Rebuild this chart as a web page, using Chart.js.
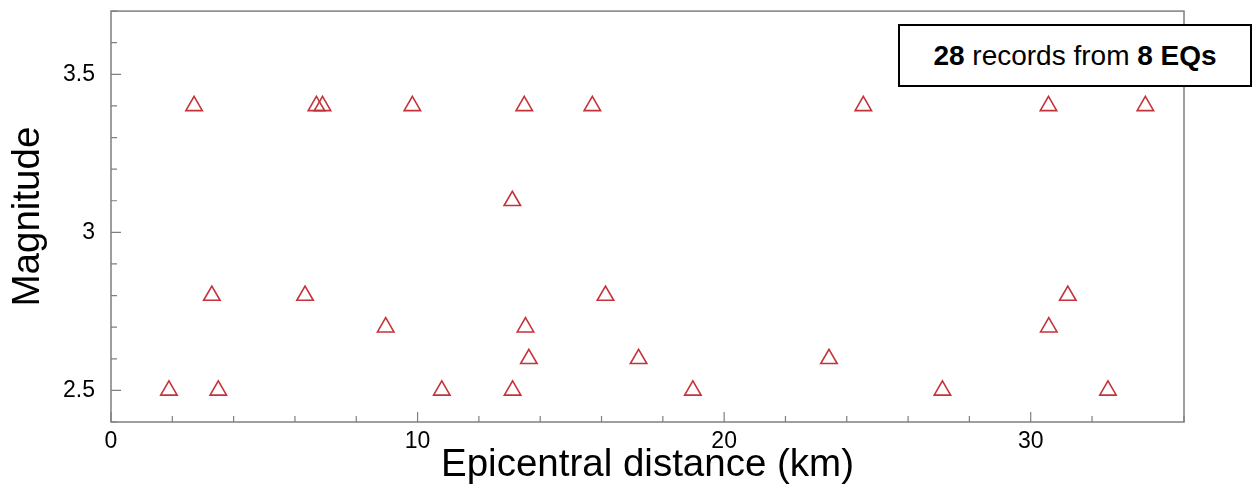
<!DOCTYPE html>
<html>
<head>
<meta charset="utf-8">
<script src="https://cdn.jsdelivr.net/npm/chart.js@4/dist/chart.umd.min.js"></script>
<style>
  body { margin: 0; background: #fff; }
  #wrap { position: relative; width: 1255px; height: 488px; }
  #note {
    position: absolute; left: 898px; top: 24px; width: 350px; height: 59px;
    border: 2px solid #000; background: #fff;
    font-family: "Liberation Sans", Arial, sans-serif; font-size: 28px;
    display: flex; align-items: center; justify-content: center; color: #000;
  }
</style>
</head>
<body>
<div id="wrap">
  <canvas id="chart" width="1255" height="488"></canvas>
  <div id="note"><b>28</b>&nbsp;records from&nbsp;<b>8 EQs</b></div>
</div>
<script>
// epicentral distance (km) and magnitude of each record
const distance = [
  2.71, 6.70, 6.90, 9.83, 13.48, 15.70, 24.54, 30.58, 33.74,
  13.09,
  3.29, 6.33, 16.13, 31.21,
  8.96, 13.52, 30.59,
  13.63, 17.21, 23.42,
  1.89, 3.50, 10.79, 13.10, 18.98, 27.12, 32.52
];
const magnitude = [
  3.4, 3.4, 3.4, 3.4, 3.4, 3.4, 3.4, 3.4, 3.4,
  3.1,
  2.8, 2.8, 2.8, 2.8,
  2.7, 2.7, 2.7,
  2.6, 2.6, 2.6,
  2.5, 2.5, 2.5, 2.5, 2.5, 2.5, 2.5
];
const xLabels = [0, 10, 20, 30];
const yLabels = [2.5, 3, 3.5];

const FONT = '"Liberation Sans", Arial, sans-serif';
const AXIS_COLOR = '#7f7f7f';

// inward tick marks (long at labelled values) plus the frame around the plot
const frameTicks = {
  id: 'frameTicks',
  afterDatasetsDraw(chart) {
    const { ctx, chartArea: a, scales } = chart;
    ctx.save();
    ctx.strokeStyle = AXIS_COLOR;
    ctx.lineWidth = 1.5;
    ctx.strokeRect(a.left, a.top, a.right - a.left, a.bottom - a.top);
    ctx.lineWidth = 1.2;
    ctx.beginPath();
    scales.x.ticks.forEach(t => {
      const px = scales.x.getPixelForValue(t.value);
      const len = xLabels.includes(t.value) ? 10 : 6;
      ctx.moveTo(px, a.bottom);
      ctx.lineTo(px, a.bottom - len);
    });
    scales.y.ticks.forEach(t => {
      const v = Math.round(t.value * 10) / 10;
      const py = scales.y.getPixelForValue(v);
      const len = yLabels.includes(v) ? 10 : 6;
      ctx.moveTo(a.left, py);
      ctx.lineTo(a.left + len, py);
    });
    ctx.stroke();
    ctx.restore();
  }
};

const points = distance.map((d, i) => ({ x: d, y: magnitude[i] }));

new Chart(document.getElementById('chart'), {
  type: 'scatter',
  data: {
    datasets: [{
      data: points,
      pointStyle: 'triangle',
      pointRadius: 9.5,
      pointHoverRadius: 9.5,
      borderColor: '#c4323a',
      backgroundColor: 'rgba(0,0,0,0)',
      borderWidth: 1.6
    }]
  },
  options: {
    responsive: false,
    animation: false,
    layout: { padding: { top: 8, right: 71, left: 0, bottom: 0 } },
    plugins: { legend: { display: false }, tooltip: { enabled: false } },
    scales: {
      x: {
        type: 'linear', min: 0, max: 35,
        grid: { display: false, drawTicks: false },
        border: { display: false },
        ticks: {
          stepSize: 2, autoSkip: false, maxRotation: 0, padding: 6,
          color: '#000', font: { family: FONT, size: 23 },
          callback: v => xLabels.includes(v) ? String(v) : ''
        },
        title: {
          display: true, text: 'Epicentral distance (km)', color: '#000',
          font: { family: FONT, size: 38.5 }, padding: { top: 0, bottom: 0 }
        },
        afterFit: s => { s.height = 66; s.paddingLeft = 0; s.paddingRight = 0; }
      },
      y: {
        type: 'linear', min: 2.4, max: 3.7,
        grid: { display: false, drawTicks: false },
        border: { display: false },
        ticks: {
          stepSize: 0.1, autoSkip: false, padding: 16,
          color: '#000', font: { family: FONT, size: 23 },
          callback: v => {
            const r = Math.round(v * 10) / 10;
            return yLabels.includes(r) ? String(r) : '';
          }
        },
        title: {
          display: true, text: 'Magnitude', color: '#000',
          font: { family: FONT, size: 38.5 }, padding: { top: 5, bottom: 0 }
        },
        afterFit: s => { s.width = 111; s.paddingTop = 0; s.paddingBottom = 0; }
      }
    }
  },
  plugins: [frameTicks]
});
</script>
</body>
</html>
